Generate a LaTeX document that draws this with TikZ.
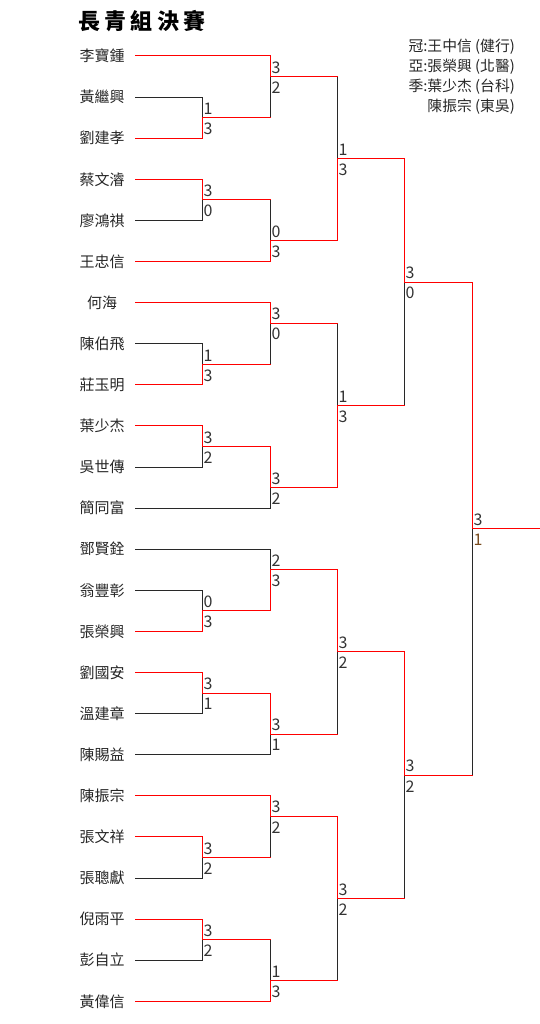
\documentclass[tikz,border=0pt]{standalone}
\usepackage{fontspec}
\setmainfont{Noto Sans CJK TC}
\newfontfamily\titlefont[LetterSpace=20]{Noto Sans CJK TC}
\usetikzlibrary{calc}
\definecolor{winred}{RGB}{255,0,0}
\definecolor{losegray}{RGB}{40,40,40}
\definecolor{scoregray}{RGB}{51,51,51}
\definecolor{lastbrown}{RGB}{120,75,30}

\begin{document}
\begin{tikzpicture}[x={(1pt,0)}, y={(0,-41.1pt)},
  win/.style={draw=winred, line width=1pt, line cap=rect},
  lose/.style={draw=losegray, line width=1pt, line cap=rect},
  player/.style={font=\fontsize{15}{15}\selectfont, text=black!85, minimum width=66pt, inner sep=0pt},
  scnum/.style={inner sep=0pt, xshift=1.5pt, font=\fontsize{16}{16}\selectfont, text=scoregray},
  sctop/.style={scnum, anchor=south west, yshift=3pt},
  scbot/.style={scnum, anchor=north west, yshift=-5pt},
  legend/.style={anchor=east, inner sep=0pt, font=\fontsize{14.8}{14.8}\selectfont, text=black!85}]

\useasboundingbox (0,-1.3625) rectangle (540,23.5523);

\node[font=\titlefont\bfseries\fontsize{22}{22}\selectfont] (title) at (142,-0.852) {長青組決賽};

\node[legend] (guan) at (515,-0.219) {冠:王中信 (健行)};
\node[legend] (ya) at (515,0.260) {亞:張榮興 (北醫)};
\node[legend] (ji) at (515,0.747) {季:葉少杰 (台科)};
\node[legend] (jib) at (515,1.241) {陳振宗 (東吳)};

% players
\foreach \nm [count=\i from 0] in {李寶鍾,黃繼興,劉建孝,蔡文濬,廖鴻祺,王忠信,何海,陳伯飛,莊玉明,葉少杰,吳世傳,簡同富,鄧賢銓,翁豐彰,張榮興,劉國安,溫建章,陳賜益,陳振宗,張文祥,張聰獻,倪雨平,彭自立,黃偉信}
  \node[player] (n\i) at (102,\i) {\nm};

% match points
\coordinate (r1a) at (202,1.5);
\coordinate (r1b) at (202,3.5);
\coordinate (r1c) at (202,7.5);
\coordinate (r1d) at (202,9.5);
\coordinate (r1e) at (202,13.5);
\coordinate (r1f) at (202,15.5);
\coordinate (r1g) at (202,19.5);
\coordinate (r1h) at (202,21.5);
\coordinate (r2a) at (270,0.5);
\coordinate (r2b) at (270,4.5);
\coordinate (r2c) at (270,6.5);
\coordinate (r2d) at (270,10.5);
\coordinate (r2e) at (270,12.5);
\coordinate (r2f) at (270,16.5);
\coordinate (r2g) at (270,18.5);
\coordinate (r2h) at (270,22.5);
\coordinate (r3a) at (337,2.5);
\coordinate (r3b) at (337,8.5);
\coordinate (r3c) at (337,14.5);
\coordinate (r3d) at (337,20.5);
\coordinate (r4a) at (404,5.5);
\coordinate (r4b) at (404,17.5);
\coordinate (r5) at (472,11.5);
\coordinate (champ) at (540,11.5);

% first lines
\foreach \p/\m in {1/r1a,4/r1b,7/r1c,10/r1d,11/r2d,12/r2e,13/r1e,16/r1f,17/r2f,20/r1g,22/r1h}
  \draw[lose] (n\p.east) -| (\m);
\foreach \p/\m in {0/r2a,2/r1a,3/r1b,5/r2b,6/r2c,8/r1c,9/r1d,14/r1e,15/r1f,18/r2g,19/r1g,21/r1h,23/r2h}
  \draw[win] (n\p.east) -| (\m);

% later rounds
\foreach \a/\b in {r1a/r2a,r1b/r2b,r1c/r2c,r1g/r2g,r1h/r2h,r2a/r3a,r2c/r3b,r2f/r3c,r2h/r3d,r3b/r4a,r3d/r4b,r4b/r5}
  \draw[lose] (\a -| \b) -- (\b);
\foreach \a/\b in {r1d/r2d,r1e/r2e,r1f/r2f,r2b/r3a,r2d/r3b,r2e/r3c,r2g/r3d,r3a/r4a,r3c/r4b,r4a/r5}
  \draw[win] (\a -| \b) -- (\b);
\foreach \a/\b in {r1a/r2a,r1b/r2b,r1c/r2c,r1d/r2d,r1e/r2e,r1f/r2f,r1g/r2g,r1h/r2h,r2a/r3a,r2b/r3a,r2c/r3b,r2d/r3b,r2e/r3c,r2f/r3c,r2g/r3d,r2h/r3d,r3a/r4a,r3b/r4a,r3c/r4b,r3d/r4b,r4a/r5,r4b/r5,r5/champ}
  \draw[win] (\a) -- (\a -| \b);

% scores
\foreach \m/\u/\d in {r1a/1/3,r1b/3/0,r1c/1/3,r1d/3/2,r1e/0/3,r1f/3/1,r1g/3/2,r1h/3/2,r2a/3/2,r2b/0/3,r2c/3/0,r2d/3/2,r2e/2/3,r2f/3/1,r2g/3/2,r2h/1/3,r3a/1/3,r3b/1/3,r3c/3/2,r3d/3/2,r4a/3/0,r4b/3/2}
{
  \node[sctop] (\m-u) at (\m) {\u};
  \node[scbot] (\m-d) at (\m) {\d};
}
\node[sctop] (r5-u) at (r5) {3};
\node[scbot, text=lastbrown] (r5-d) at (r5) {1};

\end{tikzpicture}
\end{document}
